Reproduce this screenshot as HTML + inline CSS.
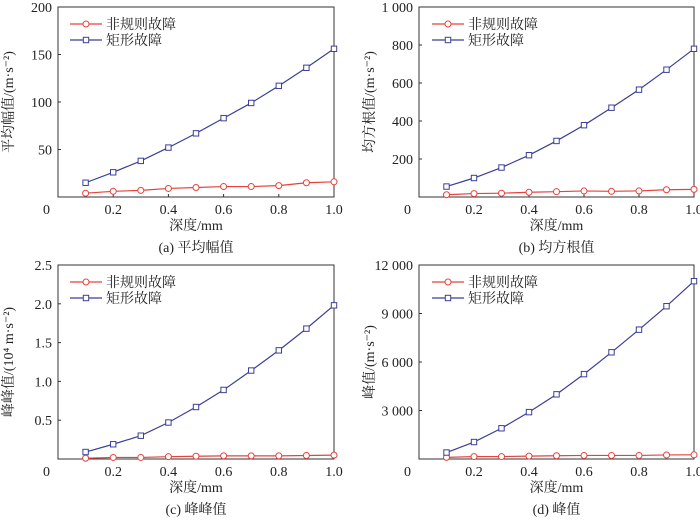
<!DOCTYPE html>
<html><head><meta charset="utf-8"><style>
body{margin:0;background:#fff;width:700px;height:517px;overflow:hidden}
svg{font-family:"Liberation Serif","Noto Serif CJK SC",serif}
</style></head><body>
<svg id="c" width="700" height="517"></svg>
<script>
const xCats=[0.1,0.2,0.3,0.4,0.5,0.6,0.7,0.8,0.9,1.0];
const aRed=[4,6,7,9,10,11,11,12,15,16];
const aBlue=[15,26,38,52,67,83,99,117,136,156];
const bRed=[12,18,20,25,28,32,30,32,38,40];
const bBlue=[55,100,155,220,295,378,470,565,670,780];
const cRed=[0.01,0.02,0.02,0.03,0.035,0.04,0.04,0.04,0.045,0.05];
const cBlue=[0.09,0.19,0.30,0.47,0.67,0.89,1.14,1.40,1.68,1.98];
const dRed=[100,150,150,180,200,220,220,220,250,260];
const dBlue=[400,1050,1900,2900,4000,5250,6600,8000,9450,11000];
const xTicks=[0.2,0.4,0.6,0.8,1.0];
const aTicks=[50,100,150,200], bTicks=[200,400,600,800,1000], cTicks=[0.5,1.0,1.5,2.0,2.5], dTicks=[3000,6000,9000,12000];
const aLabels=["50","100","150","200"], bLabels=["200","400","600","800","1 000"], cLabels=["0.5","1.0","1.5","2.0","2.5"], dLabels=["3 000","6 000","9 000","12 000"];
const NS="http://www.w3.org/2000/svg";
const svg=document.getElementById('c');
function mk(t,a,p){const e=document.createElementNS(NS,t);for(const k in a)e.setAttribute(k,a[k]);(p||svg).appendChild(e);return e;}
const panels=[
 {id:'a',L:58,R:334,T:7,B:197,ymax:200,ticks:aTicks,labels:aLabels,red:aRed,blue:aBlue,ytitle:'平均幅值/(m·s⁻²)',cap:'(a) 平均幅值'},
 {id:'b',L:419,R:694,T:7,B:197,ymax:1000,ticks:bTicks,labels:bLabels,red:bRed,blue:bBlue,ytitle:'均方根值/(m·s⁻²)',cap:'(b) 均方根值'},
 {id:'c',L:58,R:334,T:265,B:459,ymax:2.5,ticks:cTicks,labels:cLabels,red:cRed,blue:cBlue,ytitle:'峰峰值/(10⁴ m·s⁻²)',cap:'(c) 峰峰值'},
 {id:'d',L:419,R:694,T:265,B:459,ymax:12000,ticks:dTicks,labels:dLabels,red:dRed,blue:dBlue,ytitle:'峰值/(m·s⁻²)',cap:'(d) 峰值'}];
panels.forEach(p=>{
 const g=mk('g',{});
 
 
 const xs=v=>p.L+(p.R-p.L)*v, ys=v=>p.B-(p.B-p.T)*v/p.ymax;
 const box=mk('rect',{x:p.L,y:p.T,width:p.R-p.L,height:p.B-p.T,fill:'none',stroke:'#333','stroke-width':1},g);
 
 
 const z=mk('text',{x:p.L-8,y:p.B+17,'font-size':14,'text-anchor':'end',fill:'#222'},g);z.textContent='0';
 
 
 xTicks.forEach(v=>{const t=mk('text',{x:xs(v),y:p.B+17,'font-size':14,'text-anchor':'middle',fill:'#222'},g);t.textContent=v.toFixed(1);
  
  
  mk('line',{x1:xs(v),x2:xs(v),y1:p.B,y2:p.B-3,stroke:'#333'},g);});
 p.ticks.forEach((v,i)=>{const t=mk('text',{x:p.L-6,y:ys(v)+5,'font-size':14,'text-anchor':'end',fill:'#222'},g);t.textContent=p.labels[i];
  
  
  mk('line',{x1:p.L,x2:p.L+3,y1:ys(v),y2:ys(v),stroke:'#333'},g);});
 const xt=mk('text',{x:(p.L+p.R)/2,y:p.B+33,'font-size':14,'text-anchor':'middle',fill:'#222'},g);xt.textContent='深度/mm';
 
 
 const cp=mk('text',{x:(p.L+p.R)/2,y:p.B+55,'font-size':14,'text-anchor':'middle',fill:'#222'},g);cp.textContent=p.cap;
 
 
 const yx=p.L-45, yc=(p.T+p.B)/2;
 const yt=mk('text',{x:yx,y:yc,'font-size':14,'text-anchor':'middle',fill:'#222',transform:`rotate(-90 ${yx} ${yc})`},g);yt.textContent=p.ytitle;
 
 
 [['red',p.red,'#e8413c','circle'],['blue',p.blue,'#3c3f96','square']].forEach(([nm,arr,col,sh])=>{
  const pts=arr.map((v,i)=>xs(xCats[i])+','+ys(v)).join(' ');
  const l=mk('polyline',{points:pts,fill:'none',stroke:col,'stroke-width':1.2},g);
  
  
  arr.forEach((v,i)=>{let m;
   if(sh==='circle')m=mk('circle',{cx:xs(xCats[i]),cy:ys(v),r:3,fill:'#fff',stroke:col,'stroke-width':1},g);
   else m=mk('rect',{x:xs(xCats[i])-2.7,y:ys(v)-2.7,width:5.4,height:5.4,fill:'#fff',stroke:col,'stroke-width':1},g);
   
   });
 });
 const lx=p.L+(p.id==='b'||p.id==='d'?13:12), ly=p.T+17;
 [['非规则故障','#e8413c','circle'],['矩形故障','#3c3f96','square']].forEach(([lab,col,sh],k)=>{
  const y=ly+k*16;
  const lg=mk('g',{},g);
  
  
  mk('line',{x1:lx,x2:lx+32,y1:y,y2:y,stroke:col,'stroke-width':1.2},lg);
  if(sh==='circle')mk('circle',{cx:lx+16,cy:y,r:3,fill:'#fff',stroke:col},lg);
  else mk('rect',{x:lx+13.3,y:y-2.7,width:5.4,height:5.4,fill:'#fff',stroke:col},lg);
  const t=mk('text',{x:lx+36,y:y+5,'font-size':14,fill:'#222'},lg);t.textContent=lab;
 });
});
</script>
</body></html>
